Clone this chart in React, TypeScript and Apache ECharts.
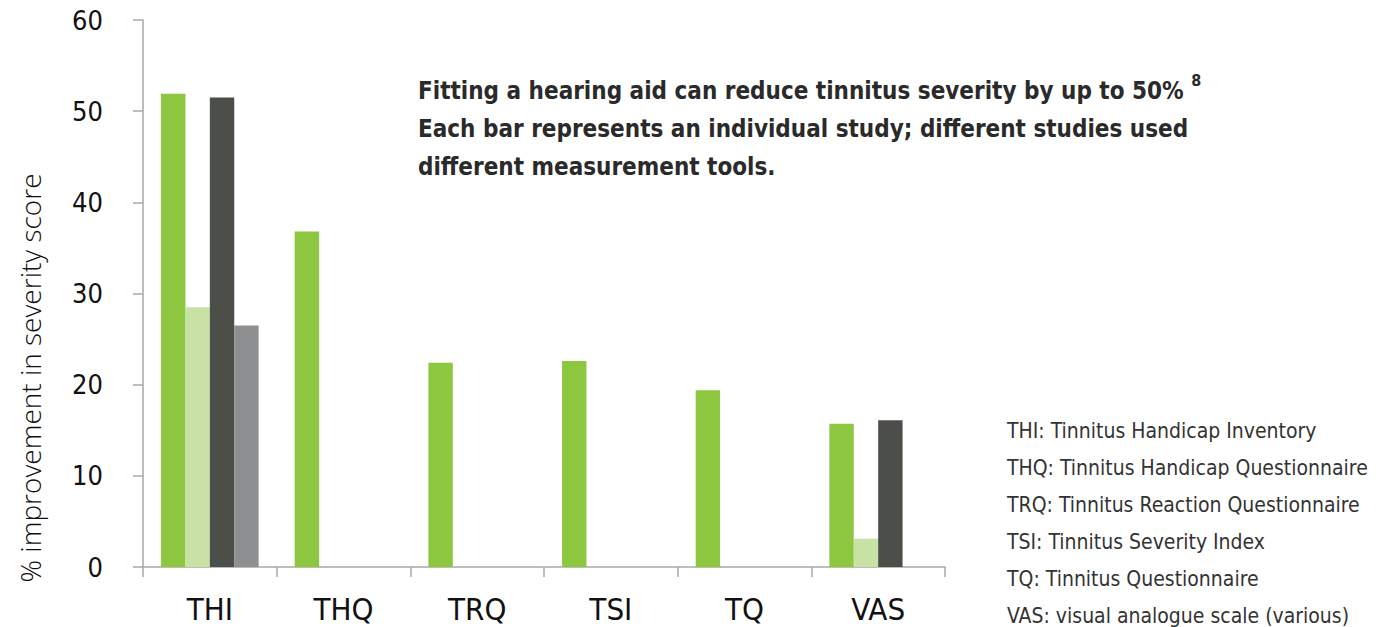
import React, { useEffect, useRef } from "react";
import * as echarts from "echarts";

const categories = ["THI", "THQ", "TRQ", "TSI", "TQ", "VAS"];
const study1 = [51.9, 36.8, 22.4, 22.6, 19.4, 15.7];
const study2 = [28.5, null, null, null, null, 3.1];
const study3 = [51.5, null, null, null, null, 16.1];
const study4 = [26.5, null, null, null, null, null];
const yTicks = { min: 0, max: 60, interval: 10 };
const noteLines = [
  "Fitting a hearing aid can reduce tinnitus severity by up to 50%",
  "Each bar represents an individual study; different studies used",
  "different measurement tools.",
];
const noteSup = "8";
const glossary = [
  "THI: Tinnitus Handicap Inventory",
  "THQ: Tinnitus Handicap Questionnaire",
  "TRQ: Tinnitus Reaction Questionnaire",
  "TSI: Tinnitus Severity Index",
  "TQ: Tinnitus Questionnaire",
  "VAS: visual analogue scale (various)",
];
const yAxisName = "% improvement in severity score";

const colors = ["#8DC63F", "#C8E1A4", "#4C4E49", "#8E8F91"];

export default function App() {
  const ref = useRef<HTMLDivElement>(null);
  useEffect(() => {
    document.body.style.margin = "0";
    if (!ref.current) return;
    const chart = echarts.init(ref.current, null, { renderer: "svg" });
    const font = "'Open Sans', 'Noto Sans', sans-serif";
    const condensed = "'DejaVu Sans Condensed', 'Open Sans', sans-serif";
    const mk = (name: string, data: (number | null)[], i: number) => ({
      name,
      type: "bar",
      data,
      barGap: "0%",
      barCategoryGap: "27%",
      itemStyle: { color: colors[i] },
    });
    chart.setOption({
      animation: false,
      grid: { left: 143, right: 433, top: 20, bottom: 60 },
      xAxis: {
        type: "category",
        data: categories,
        axisLine: { lineStyle: { color: "#A8A8A8", width: 1.5 } },
        axisTick: { show: true, length: 10, lineStyle: { color: "#A8A8A8", width: 1.5 } },
        axisLabel: {
          color: "#111",
          fontSize: 31,
          fontWeight: 300,
          fontFamily: condensed,
          margin: 26,
        },
      },
      yAxis: {
        type: "value",
        min: yTicks.min,
        max: yTicks.max,
        interval: yTicks.interval,
        axisLine: { show: true, lineStyle: { color: "#A8A8A8", width: 1.5 } },
        axisTick: { show: true, length: 10, lineStyle: { color: "#A8A8A8", width: 1.5 } },
        splitLine: { show: false },
        axisLabel: { color: "#111", fontSize: 27, fontWeight: 300, fontFamily: condensed, margin: 40 },
      },
      series: [
        mk("Study 1", study1, 0),
        mk("Study 2", study2, 1),
        mk("Study 3", study3, 2),
        mk("Study 4", study4, 3),
      ],
      graphic: [
        {
          type: "text",
          x: 30,
          y: 378,
          rotation: Math.PI / 2,
          style: {
            text: yAxisName,
            font: `300 28px ${font}`,
            fill: "#111",
            align: "center",
            verticalAlign: "middle",
          },
        },
        {
          type: "text",
          x: 418,
          y: 72,
          style: {
            text:
              `{a|${noteLines[0]} }{s|${noteSup}}\n{a|${noteLines[1]}}\n{a|${noteLines[2]}}`,
            rich: {
              a: {
                fontSize: 24,
                fontWeight: "bold",
                fontFamily: condensed,
                fill: "#2a2a2a",
                lineHeight: 38,
              },
              s: {
                fontSize: 16,
                fontWeight: "bold",
                fontFamily: condensed,
                fill: "#2a2a2a",
                lineHeight: 38,
                verticalAlign: "top",
                padding: [0, 0, 6, 0],
              },
            },
          },
        },
        ...glossary.map((t, i) => ({
          type: "text",
          x: 1007,
          y: 431 + i * 37,
          style: {
            text: t,
            font: `300 21px ${condensed}`,
            fill: "#333",
            verticalAlign: "middle",
          },
        })),
      ],
    });
    return () => chart.dispose();
  }, []);
  return <div ref={ref} style={{ width: 1378, height: 627 }} />;
}
